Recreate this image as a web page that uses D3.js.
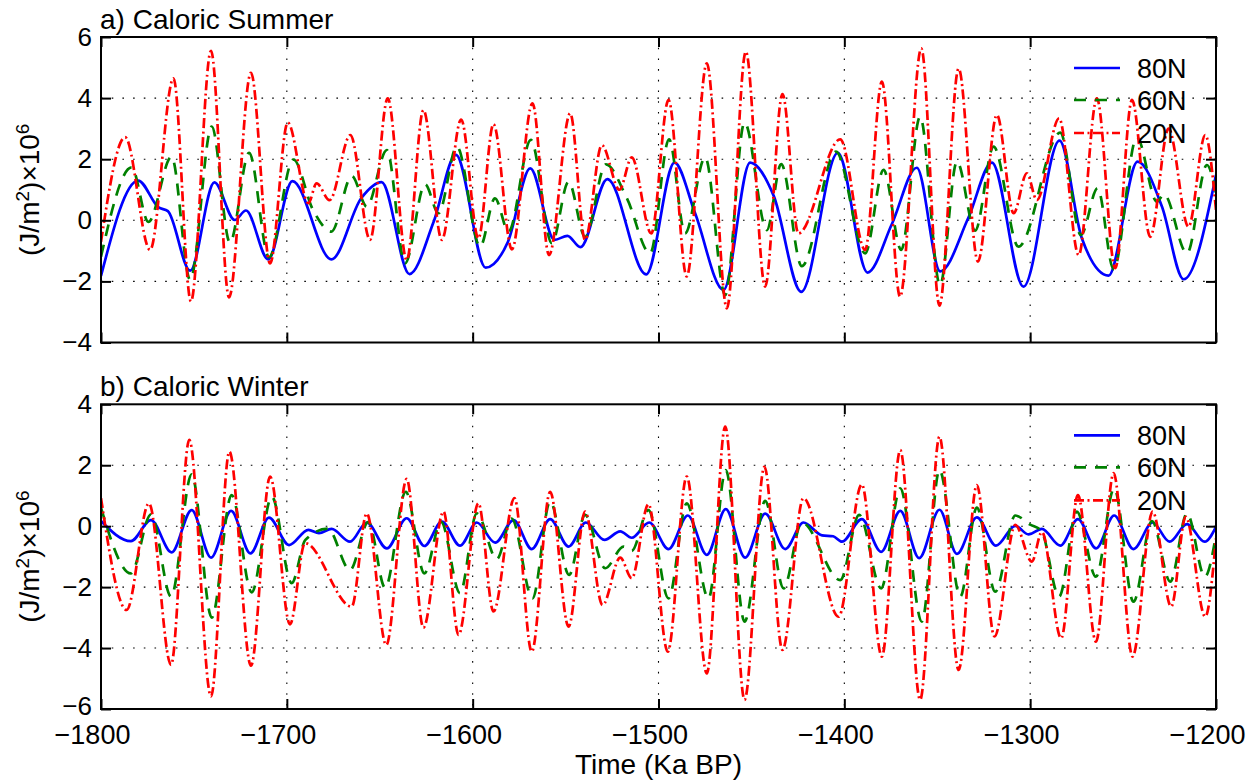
<!DOCTYPE html>
<html>
<head>
<meta charset="utf-8">
<script src="https://cdn.jsdelivr.net/npm/d3@7"></script>
<style>
  body { margin: 0; background: #fff; }
  text { font-family: "Liberation Sans", Arial, Helvetica, sans-serif; fill: #000; }
</style>
</head>
<body>
<svg id="chart" width="1255" height="780"></svg>
<script>
// ---------------- data ----------------
const xTicks = [-1800, -1700, -1600, -1500, -1400, -1300, -1200];
const summerTicks = [-4, -2, 0, 2, 4, 6];
const winterTicks = [-6, -4, -2, 0, 2, 4];
const seriesNames = ["80N", "60N", "20N"];
const panelTitles = ["a) Caloric Summer", "b) Caloric Winter"];

// caloric summer, [time (ka BP), anomaly (J/m2 x 1e6)]
const summer80 = [[-1800,-1.82],[-1780,1.30],[-1769,0.42],[-1764,0.30],[-1752,-1.65],[-1739,1.24],[-1728,0.01],[-1722,0.32],[-1710,-1.28],[-1697,1.28],[-1676,-1.28],[-1660,0.72],[-1649,1.25],[-1634,-1.76],[-1621,-0.05],[-1609,2.14],[-1593,-1.55],[-1581,-0.70],[-1569,1.70],[-1556,-0.64],[-1549,-0.51],[-1542,-0.88],[-1527.5,1.35],[-1506.6,-1.77],[-1491.4,1.89],[-1480.3,0.23],[-1465,-2.28],[-1450.7,1.89],[-1438,0.80],[-1423.2,-2.34],[-1403.5,2.21],[-1387.5,-1.71],[-1374.4,-0.12],[-1361,1.72],[-1348.4,-1.67],[-1333.2,0.09],[-1320.6,1.89],[-1303.6,-2.17],[-1284.2,2.61],[-1272.2,-0.59],[-1257.8,-1.81],[-1242.2,1.92],[-1229.1,0.45],[-1217.4,-1.93],[-1200,1.48]];
const summer60 = [[-1800,-1.19],[-1783.5,1.73],[-1774.5,-0.05],[-1762,2.08],[-1752,-1.95],[-1740.4,3.07],[-1730.6,-0.73],[-1720.3,2.21],[-1709.6,-1.21],[-1696.5,1.99],[-1686,0.35],[-1676,-0.37],[-1665,1.45],[-1657,0.45],[-1646.2,2.30],[-1636.4,-1.41],[-1625.6,1.18],[-1618.4,0.23],[-1608.5,2.41],[-1596,-0.86],[-1588,0.72],[-1580.7,-0.37],[-1568.7,2.63],[-1557.4,-0.75],[-1548.4,1.26],[-1539.5,-0.54],[-1528.3,1.83],[-1517,0.72],[-1504.5,-1.08],[-1494.3,2.65],[-1485.7,-0.43],[-1474.9,2.06],[-1464.1,-2.45],[-1453.7,3.20],[-1441.7,-0.32],[-1434,1.84],[-1422.9,-1.50],[-1404.5,2.25],[-1388.8,-1.08],[-1378.9,1.65],[-1369.4,-0.97],[-1359.2,3.39],[-1348.5,-2.12],[-1339.4,1.92],[-1329.6,-0.34],[-1319.7,2.41],[-1306.3,-0.86],[-1283.8,2.87],[-1272.7,-0.48],[-1263.7,1.05],[-1255.1,-1.60],[-1242.6,2.72],[-1231.8,0.61],[-1228,0.85],[-1215.6,-1.08],[-1204.9,1.81],[-1200,0.88]];
const summer20 = [[-1800,-0.70],[-1787,2.72],[-1773.6,-0.97],[-1761,4.65],[-1751.6,-2.66],[-1740.8,5.55],[-1731.1,-2.52],[-1719.3,4.83],[-1709,-1.41],[-1699.5,3.20],[-1688.4,0.56],[-1684,1.21],[-1677,0.66],[-1665.8,2.79],[-1655.2,-0.64],[-1645.7,3.99],[-1635.5,-1.30],[-1626.5,3.61],[-1616.6,-0.64],[-1606.2,3.30],[-1596.9,-0.59],[-1588.8,3.15],[-1578.9,-0.95],[-1567.8,3.83],[-1558.9,-1.14],[-1547.5,3.50],[-1539.5,-0.64],[-1530.5,2.46],[-1521,1.0],[-1514.4,2.06],[-1503.9,-0.43],[-1494.6,3.94],[-1484.8,-1.84],[-1474,5.14],[-1463.2,-2.88],[-1453,5.52],[-1442.6,-2.17],[-1433.3,4.13],[-1424.7,-0.43],[-1402.2,2.65],[-1388.8,-0.97],[-1379.8,4.54],[-1370,-2.5],[-1358.6,5.63],[-1348.8,-2.79],[-1338.5,4.97],[-1328.1,-1.35],[-1317.9,3.45],[-1308.9,0.23],[-1301.8,1.54],[-1296.4,0.66],[-1284.4,3.34],[-1273.9,-1.14],[-1264.1,3.99],[-1254.2,-1.57],[-1245.2,3.94],[-1235.4,-0.54],[-1225.5,3.0],[-1214.8,-0.21],[-1205.8,2.79],[-1200,0.34]];

// caloric winter
const winter80 = [[-1800,0.17],[-1783.9,-0.49],[-1773.1,0.20],[-1762,-0.86],[-1751.2,0.53],[-1740.8,-1.03],[-1730,0.50],[-1719.6,-0.89],[-1709.6,0.28],[-1698.8,-0.62],[-1688.4,-0.12],[-1682.7,-0.23],[-1675.9,-0.09],[-1666,-0.51],[-1657,0.12],[-1646.2,-0.73],[-1635.5,0.26],[-1626,-0.65],[-1616.6,0.15],[-1606.8,-0.64],[-1597.8,0.12],[-1587.9,-0.54],[-1578,0.20],[-1568.2,-0.75],[-1558.3,0.23],[-1548.4,-0.67],[-1539.1,0.12],[-1529.1,-0.45],[-1520.6,-0.17],[-1514.4,-0.38],[-1505,0.12],[-1494.6,-0.75],[-1484.2,0.35],[-1474,-0.94],[-1463.8,0.56],[-1453.4,-1.03],[-1442.6,0.41],[-1431.8,-0.75],[-1422,0.12],[-1412,-0.30],[-1406,-0.33],[-1401.3,-0.51],[-1390.6,0.23],[-1380.2,-0.84],[-1369.9,0.50],[-1359.7,-1.05],[-1348.8,0.54],[-1339.4,-0.91],[-1328.7,0.29],[-1318.4,-0.64],[-1308,0.01],[-1300.9,-0.27],[-1293.7,-0.09],[-1283.8,-0.64],[-1274.3,0.23],[-1264.5,-0.73],[-1254.8,0.35],[-1244.4,-0.75],[-1234.1,0.12],[-1225,-0.51],[-1215.6,0.07],[-1206.1,-0.51],[-1200,-0.02]];
const winter60 = [[-1800,0.6],[-1783.9,-1.55],[-1773.1,0.39],[-1762.3,-2.31],[-1751.2,1.70],[-1740.4,-3.0],[-1729.7,1.02],[-1718.9,-2.17],[-1708.1,0.97],[-1697.4,-1.87],[-1690,-0.45],[-1678,-0.08],[-1666,-1.44],[-1656.1,0.14],[-1647.1,-2.02],[-1636,1.13],[-1626,-1.55],[-1617,0.14],[-1606.8,-2.20],[-1597.8,0.42],[-1587,-1.08],[-1579,0.25],[-1567.8,-2.37],[-1558.3,0.81],[-1548.1,-1.60],[-1539.5,0.37],[-1528.7,-1.38],[-1518.8,-0.67],[-1514.4,-0.81],[-1505.4,0.53],[-1494.6,-2.37],[-1484.8,0.75],[-1473.1,-2.37],[-1463.8,1.84],[-1453.7,-3.13],[-1442.6,0.83],[-1432.7,-2.04],[-1422.9,0.12],[-1402.2,-1.77],[-1392,0.37],[-1380.2,-2.04],[-1369.9,1.24],[-1358.3,-3.13],[-1348.8,1.84],[-1337.6,-2.31],[-1328.7,0.61],[-1318.8,-2.15],[-1308,0.35],[-1300,0.05],[-1294,-0.15],[-1284.4,-2.31],[-1274.9,0.48],[-1264.6,-1.66],[-1254.8,1.24],[-1244.4,-2.48],[-1234.5,0.17],[-1224.6,-1.82],[-1215.6,0.42],[-1206,-1.66],[-1200,-0.29]];
const winter20 = [[-1800,0.92],[-1786.2,-2.75],[-1774.2,0.75],[-1762.3,-4.55],[-1752.5,2.83],[-1740.8,-5.59],[-1730.9,2.45],[-1719.3,-4.58],[-1709,1.63],[-1698.3,-3.22],[-1690.2,-0.56],[-1665.1,-2.64],[-1657,0.42],[-1646.5,-3.9],[-1635.5,1.55],[-1626.5,-3.33],[-1615.7,0.48],[-1607.6,-3.57],[-1596.9,0.75],[-1588.8,-2.80],[-1577.5,0.92],[-1568.2,-4.12],[-1558.3,1.13],[-1548.4,-3.30],[-1539.5,0.48],[-1530.1,-2.59],[-1520.6,-1.03],[-1514.4,-1.71],[-1505.4,0.72],[-1495,-4.12],[-1484.8,1.63],[-1474,-4.83],[-1464.1,3.27],[-1453.7,-5.70],[-1443,1.95],[-1433.3,-4.06],[-1422,0.92],[-1403.1,-2.97],[-1390.6,1.37],[-1379.8,-4.28],[-1369.9,2.50],[-1359.2,-5.70],[-1348.8,2.94],[-1338.5,-4.72],[-1328.7,1.35],[-1319.2,-3.62],[-1308,0.04],[-1299.1,-1.16],[-1293.7,-0.19],[-1283.3,-3.68],[-1274.3,1.02],[-1264.6,-3.79],[-1255.1,1.74],[-1244.9,-4.28],[-1234.1,0.48],[-1224.1,-2.64],[-1216.3,0.31],[-1205.8,-2.97],[-1200,-0.40]];

// ---------------- drawing ----------------
const svg = d3.select("#chart");
const X0 = 101, X1 = 1216;
const x = d3.scaleLinear().domain([-1800, -1200]).range([X0, X1]);

const styles = [
  { color: "#0000ff", dash: null },
  { color: "#008000", dash: "12,9" },
  { color: "#ff0000", dash: "10,3.5,2,3.5" }
];

const panels = [
  { top: 37, bottom: 342.5, ticks: summerTicks, series: [summer80, summer60, summer20], title: panelTitles[0], xLabels: false },
  { top: 404.3, bottom: 709, ticks: winterTicks, series: [winter80, winter60, winter20], title: panelTitles[1], xLabels: true }
];

const line = d3.line().curve(d3.curveMonotoneX);

panels.forEach((p, pi) => {
  const y = d3.scaleLinear().domain([p.ticks[0], p.ticks[p.ticks.length - 1]]).range([p.bottom, p.top]);
  const g = svg.append("g");

  // grid (dotted)
  const grid = g.append("g").attr("stroke", "#000").attr("stroke-width", 1.1).attr("stroke-dasharray", "1.6,9.1");
  grid.selectAll("line.gx").data(xTicks.slice(1, -1)).join("line")
    .attr("x1", d => x(d)).attr("x2", d => x(d)).attr("y1", p.top).attr("y2", p.bottom);
  grid.selectAll("line.gy").data(p.ticks.slice(1, -1)).join("line")
    .attr("x1", X0).attr("x2", X1).attr("y1", d => y(d)).attr("y2", d => y(d));

  // clip
  const clipId = "clip" + pi;
  svg.append("clipPath").attr("id", clipId).append("rect")
    .attr("x", X0).attr("y", p.top).attr("width", X1 - X0).attr("height", p.bottom - p.top);

  // lines
  const lg = g.append("g").attr("clip-path", `url(#${clipId})`);
  p.series.forEach((s, si) => {
    lg.append("path")
      .attr("d", line(s.map(d => [x(d[0]), y(d[1])])))
      .attr("fill", "none")
      .attr("stroke", styles[si].color)
      .attr("stroke-width", 2.7)
      .attr("stroke-dasharray", styles[si].dash)
      .attr("stroke-linejoin", "round");
  });

  // axes with inward ticks
  const axL = d3.axisLeft(y).tickValues(p.ticks).tickSizeInner(-10).tickSizeOuter(0).tickPadding(9).tickFormat(d3.format("d"));
  const axR = d3.axisRight(y).tickValues(p.ticks).tickSizeInner(-10).tickSizeOuter(0).tickFormat("");
  const axT = d3.axisTop(x).tickValues(xTicks).tickSizeInner(-10).tickSizeOuter(0).tickFormat("");
  const axB = d3.axisBottom(x).tickValues(xTicks).tickSizeInner(-10).tickSizeOuter(0).tickPadding(19)
    .tickFormat(p.xLabels ? d3.format("d") : "");

  const gL = g.append("g").attr("transform", `translate(${X0},0)`).call(axL);
  const gR = g.append("g").attr("transform", `translate(${X1},0)`).call(axR);
  const gT = g.append("g").attr("transform", `translate(0,${p.top})`).call(axT);
  const gB = g.append("g").attr("transform", `translate(0,${p.bottom})`).call(axB);
  [gL, gR, gT, gB].forEach(a => {
    a.select(".domain").remove();
    a.selectAll(".tick line").attr("stroke", "#000").attr("stroke-width", 2);
    a.selectAll("text").attr("font-family", "'Liberation Sans', Arial, sans-serif").attr("fill", "#000");
  });
  gL.selectAll("text").attr("font-size", 26);
  // lowest y label of the lower panel sits a little higher so it clears the x tick labels
  if (p.xLabels) gL.selectAll("text").filter(d => d === p.ticks[0]).attr("dy", "0.22em");
  gB.selectAll("text").attr("font-size", 27).attr("dy", "0.6em").attr("dx", -9);

  // box
  g.append("rect").attr("x", X0).attr("y", p.top).attr("width", X1 - X0).attr("height", p.bottom - p.top)
    .attr("fill", "none").attr("stroke", "#000").attr("stroke-width", 2);

  // title
  g.append("text").attr("x", X0 - 1).attr("y", p.top - 8).attr("font-size", 28).text(p.title);

  // y label
  const yl = g.append("text")
    .attr("transform", `translate(39,${(p.top + p.bottom) / 2}) rotate(-90)`)
    .attr("text-anchor", "middle").attr("font-size", 28);
  yl.append("tspan").text("(J/m");
  yl.append("tspan").attr("dy", -10).attr("font-size", 19).text("2");
  yl.append("tspan").attr("dy", 10).text(")\u00d710");
  yl.append("tspan").attr("dy", -10).attr("font-size", 19).text("6");

  // legend
  const lgY = [31, 63, 96];
  seriesNames.forEach((n, i) => {
    const yy = p.top + lgY[i];
    g.append("line").attr("x1", 1074).attr("x2", 1120).attr("y1", yy).attr("y2", yy)
      .attr("stroke", styles[i].color).attr("stroke-width", 2.7).attr("stroke-dasharray", styles[i].dash);
    g.append("text").attr("x", 1137).attr("y", yy).attr("dy", "0.36em").attr("font-size", 27).text(n);
  });
});

// x label
svg.append("text").attr("x", (X0 + X1) / 2).attr("y", 774).attr("text-anchor", "middle")
  .attr("font-size", 28).text("Time (Ka BP)");
</script>
</body>
</html>
